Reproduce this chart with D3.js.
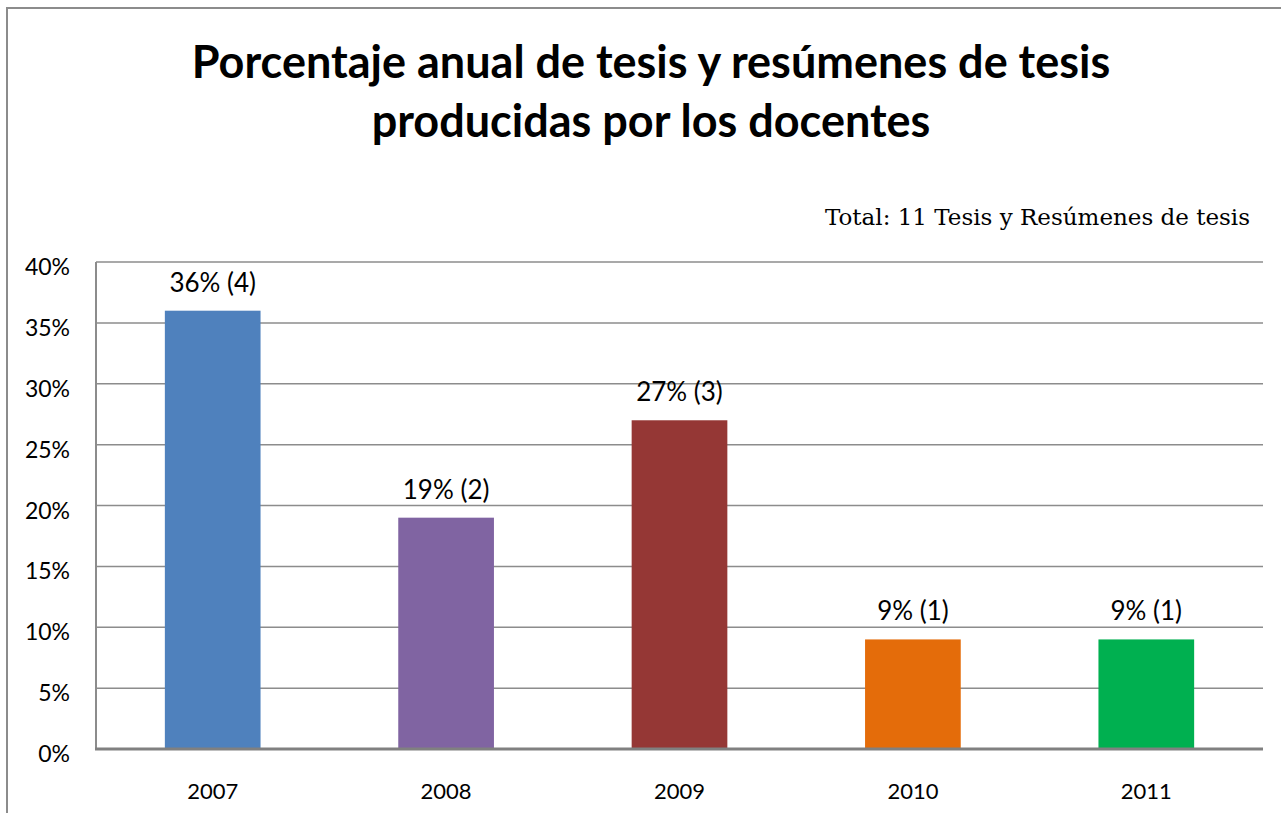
<!DOCTYPE html>
<html>
<head>
<meta charset="utf-8">
<script src="https://cdn.jsdelivr.net/npm/d3@7"></script>
<style>
    body { margin: 0; background: #fff; }
    svg { display: block; }
</style>
</head>
<body>
<svg id="chart"></svg>
<script>
// chart data
var years = ['2007', '2008', '2009', '2010', '2011'];
var percents = [36, 19, 27, 9, 9];
var counts = [4, 2, 3, 1, 1];
var barColors = ['#4F81BD', '#8064A2', '#953735', '#E46C0A', '#00B050'];
var yTicks = [0, 5, 10, 15, 20, 25, 30, 35, 40];
var titleLines = ['Porcentaje anual de tesis y resúmenes de tesis', 'producidas por los docentes'];
var subtitle = 'Total: 11 Tesis y Resúmenes de tesis';

var width = 1281,
    height = 813,
    margin = { top: 262, right: 18, bottom: 64, left: 96 },
    svg = d3.select('#chart').attr('width', width).attr('height', height);

// outer frame (runs off right and bottom edges)
svg.append('path')
    .attr('d', 'M7,' + (height + 5) + 'V8H' + (width + 5))
    .attr('fill', 'none')
    .attr('stroke', '#8c8c8c')
    .attr('stroke-width', 2);

var x = d3.scaleBand()
    .domain(years)
    .range([margin.left, width - margin.right])
    .paddingInner(0.59)
    .paddingOuter(0.295);

var y = d3.scaleLinear()
    .domain([0, 40])
    .range([height - margin.bottom, margin.top]);

// gridlines
svg.append('g')
    .selectAll('line')
    .data(yTicks.slice(1))
    .join('line')
    .attr('x1', margin.left)
    .attr('x2', width - margin.right)
    .attr('y1', function (d) { return y(d); })
    .attr('y2', function (d) { return y(d); })
    .attr('stroke', '#8c8c8c')
    .attr('stroke-width', 1.5);

// y axis line
svg.append('line')
    .attr('x1', margin.left).attr('x2', margin.left)
    .attr('y1', margin.top).attr('y2', y(0))
    .attr('stroke', '#8c8c8c')
    .attr('stroke-width', 2);

// bars
svg.append('g')
    .selectAll('rect')
    .data(years)
    .join('rect')
    .attr('x', function (d) { return x(d); })
    .attr('width', x.bandwidth())
    .attr('y', function (d, i) { return y(percents[i]); })
    .attr('height', function (d, i) { return y(0) - y(percents[i]); })
    .attr('fill', function (d, i) { return barColors[i]; });

// x axis line
svg.append('line')
    .attr('x1', margin.left - 1).attr('x2', width - margin.right)
    .attr('y1', y(0)).attr('y2', y(0))
    .attr('stroke', '#808080')
    .attr('stroke-width', 3);

var sans = 'Lato, "Open Sans", sans-serif';

// data labels
svg.append('g')
    .selectAll('text')
    .data(years)
    .join('text')
    .attr('x', function (d) { return x(d) + x.bandwidth() / 2; })
    .attr('y', function (d, i) { return y(percents[i]) - 19; })
    .attr('text-anchor', 'middle')
    .style('font-family', sans)
    .style('font-size', '26px')
    .attr('fill', '#000')
    .text(function (d, i) { return percents[i] + '% (' + counts[i] + ')'; });

// y tick labels
svg.append('g')
    .selectAll('text')
    .data(yTicks)
    .join('text')
    .attr('x', 70)
    .attr('y', function (d) { return y(d) + 13; })
    .attr('text-anchor', 'end')
    .style('font-family', sans)
    .style('font-size', '23px')
    .attr('fill', '#000')
    .text(function (d) { return d + '%'; });

// x tick labels
svg.append('g')
    .selectAll('text')
    .data(years)
    .join('text')
    .attr('x', function (d) { return x(d) + x.bandwidth() / 2; })
    .attr('y', 799)
    .attr('text-anchor', 'middle')
    .style('font-family', sans)
    .style('font-size', '22px')
    .attr('fill', '#000')
    .text(function (d) { return d; });

// title
svg.append('g')
    .selectAll('text')
    .data(titleLines)
    .join('text')
    .attr('x', 651)
    .attr('y', function (d, i) { return 78 + i * 59; })
    .attr('text-anchor', 'middle')
    .style('font-family', sans)
    .style('font-weight', 'bold')
    .style('font-size', '45px')
    .attr('fill', '#000')
    .text(function (d) { return d; });

// subtitle
svg.append('text')
    .attr('x', 1250)
    .attr('y', 225)
    .attr('text-anchor', 'end')
    .style('font-family', '"DejaVu Serif", serif')
    .style('font-size', '23px')
    .attr('fill', '#000')
    .text(subtitle);
</script>
</body>
</html>
